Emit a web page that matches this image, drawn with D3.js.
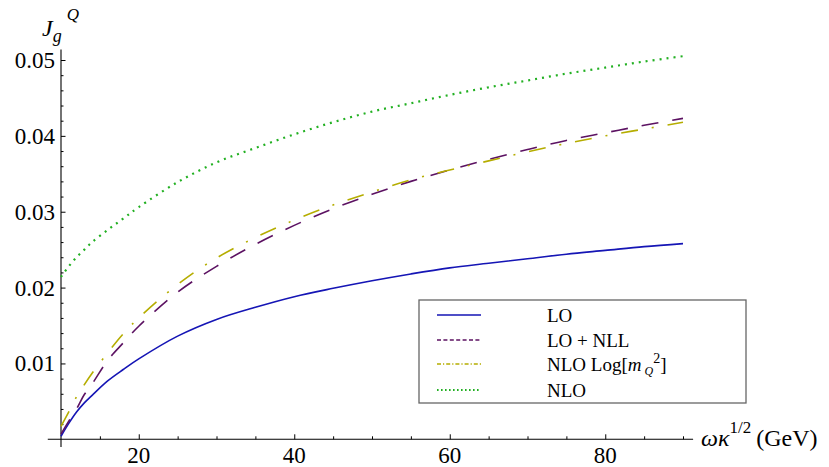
<!DOCTYPE html>
<html>
<head>
<meta charset="utf-8">
<script src="https://cdn.jsdelivr.net/npm/d3@7"></script>
<style>
  body { margin: 0; background: #fff; }
  svg, svg text { font-family: "Liberation Serif", "Times New Roman", serif; }
</style>
</head>
<body>
<div id="chart"></div>
<script>
// omega kappa^(1/2) values (GeV)
const xVals = [10, 11, 12, 13, 14, 16, 18, 20, 25, 30, 35, 40, 45, 50, 55, 60, 65, 70, 75, 80, 85, 90];

const lo     = [0.0004, 0.0021, 0.0036, 0.0048, 0.0058, 0.0077, 0.0092, 0.0106, 0.0136, 0.0158, 0.0174, 0.0188, 0.0199, 0.0209, 0.0218, 0.0226, 0.0232, 0.0238, 0.0244, 0.0249, 0.0254, 0.0258];
const loNll  = [0.0007, 0.0024, 0.0040, 0.0059, 0.0073, 0.0104, 0.0127, 0.0149, 0.0194, 0.0228, 0.0257, 0.0282, 0.0304, 0.0323, 0.0340, 0.0355, 0.0369, 0.0382, 0.0394, 0.0404, 0.0414, 0.0423];
const nloLog = [0.0017, 0.0036, 0.0056, 0.0072, 0.0087, 0.0114, 0.0139, 0.0160, 0.0204, 0.0239, 0.0266, 0.0289, 0.0309, 0.0326, 0.0342, 0.0355, 0.0367, 0.0379, 0.0390, 0.0400, 0.0409, 0.0418];
const nlo    = [0.0214, 0.0228, 0.0240, 0.0250, 0.0260, 0.0276, 0.0291, 0.0306, 0.0339, 0.0365, 0.0384, 0.0402, 0.0418, 0.0432, 0.0443, 0.0454, 0.0464, 0.0473, 0.0482, 0.0490, 0.0498, 0.0505];

const xMajor = [20, 40, 60, 80];
const xMinor = [15, 25, 30, 35, 45, 50, 55, 65, 70, 75, 85, 90];
const yMajor = [0.01, 0.02, 0.03, 0.04, 0.05];
const yMinor = [0.002, 0.004, 0.006, 0.008, 0.012, 0.014, 0.016, 0.018, 0.022, 0.024, 0.026, 0.028,
                0.032, 0.034, 0.036, 0.038, 0.042, 0.044, 0.046, 0.048];

const w = 829;
const h = 467;

const xScale = d3.scaleLinear().domain([10, 90]).range([61, 683]);
const yScale = d3.scaleLinear().domain([0, 0.05]).range([439.3, 60]);

const svg = d3.select("#chart")
              .append("svg")
              .attr("width", w)
              .attr("height", h);

// tick marks only from d3 axes (pointing into the plot), labels drawn below
function ticksOnly(g) {
  g.attr("font-family", null).attr("font-size", null);
  g.select(".domain").remove();
  g.selectAll("text").remove();
  g.selectAll("line").attr("stroke", "#000").attr("stroke-width", 1);
}

svg.append("g").attr("transform", "translate(" + xScale(10) + ",0)")
   .call(d3.axisLeft(yScale).tickValues(yMajor).tickSize(-4.5)).call(ticksOnly);
svg.append("g").attr("transform", "translate(" + xScale(10) + ",0)")
   .call(d3.axisLeft(yScale).tickValues(yMinor).tickSize(-2.5)).call(ticksOnly);
svg.append("g").attr("transform", "translate(0," + yScale(0) + ")")
   .call(d3.axisBottom(xScale).tickValues(xMajor).tickSize(-5)).call(ticksOnly);
svg.append("g").attr("transform", "translate(0," + yScale(0) + ")")
   .call(d3.axisBottom(xScale).tickValues(xMinor).tickSize(-3)).call(ticksOnly);

svg.selectAll("text.ylab")
   .data(yMajor)
   .enter()
   .append("text")
   .attr("class", "ylab")
   .attr("x", xScale(10) - 6)
   .attr("y", d => yScale(d) + 8)
   .attr("text-anchor", "end")
   .style("font-size", "23px")
   .text(d => d3.format(".2f")(d));

svg.selectAll("text.xlab")
   .data(xMajor)
   .enter()
   .append("text")
   .attr("class", "xlab")
   .attr("x", d => xScale(d))
   .attr("y", yScale(0) + 24)
   .attr("text-anchor", "middle")
   .style("font-size", "23px")
   .text(d => d);

// axis lines, extended a little past the origin
svg.append("line")
   .attr("x1", xScale(10)).attr("x2", xScale(10))
   .attr("y1", yScale(-0.001)).attr("y2", yScale(0.0514))
   .attr("stroke", "#000").attr("stroke-width", 1.1);
svg.append("line")
   .attr("x1", xScale(8.3)).attr("x2", xScale(91.3))
   .attr("y1", yScale(0)).attr("y2", yScale(0))
   .attr("stroke", "#000").attr("stroke-width", 1.1);

const series = [
  { name: "LO",       values: lo,     color: "#1515b5", dash: null,         legendDash: null,        width: 1.6 },
  { name: "LO + NLL", values: loNll,  color: "#5c1262", dash: "17,14",      legendDash: "4,2.4",     width: 1.6 },
  { name: "NLO Log",  values: nloLog, color: "#b5ad00", dash: "17,14,2,14", legendDash: "4,2,1.2,2", width: 1.6 },
  { name: "NLO",      values: nlo,    color: "#22b022", dash: "2,5",        legendDash: "1.6,2.4",   width: 2.2 }
];

const line = d3.line()
               .x(d => xScale(d[0]))
               .y(d => yScale(d[1]))
               .curve(d3.curveCatmullRom.alpha(0.5));

series.forEach(s => {
  svg.append("path")
     .datum(xVals.map((x, i) => [x, s.values[i]]))
     .attr("fill", "none")
     .attr("stroke", s.color)
     .attr("stroke-width", s.width)
     .attr("stroke-dasharray", s.dash)
     .attr("d", line);
});

// axis labels
const yLab = svg.append("text")
                .attr("x", 42)
                .attr("y", 36)
                .style("font-size", "24px")
                .style("font-style", "italic");
yLab.append("tspan").text("J");
yLab.append("tspan").attr("dy", 6).style("font-size", "18px").text("g");
yLab.append("tspan").attr("dx", 5).attr("dy", -22).style("font-size", "17px").text("Q");

const xLab = svg.append("text")
                .attr("x", 701)
                .attr("y", 446)
                .style("font-size", "24px");
xLab.append("tspan").style("font-style", "italic").text("ωκ");
xLab.append("tspan").attr("dy", -13).style("font-size", "17px").text("1/2");
xLab.append("tspan").attr("dy", 13).attr("dx", 5).text("(GeV)");

// legend
const legend = svg.append("g");
legend.append("rect")
      .attr("x", 419).attr("y", 300)
      .attr("width", 327).attr("height", 103)
      .attr("fill", "#fff")
      .attr("stroke", "#666")
      .attr("stroke-width", 1.3);

const rowY = [315, 340, 364, 390];
series.forEach((s, i) => {
  legend.append("line")
        .attr("x1", 437).attr("x2", 481)
        .attr("y1", rowY[i]).attr("y2", rowY[i])
        .attr("stroke", s.color)
        .attr("stroke-width", s.name === "NLO" ? 1.8 : 1.5)
        .attr("stroke-dasharray", s.legendDash);

  const t = legend.append("text")
                  .attr("x", 547)
                  .attr("y", rowY[i] + 7)
                  .style("font-size", "19px");
  if (s.name === "NLO Log") {
    t.append("tspan").text("NLO Log[");
    t.append("tspan").style("font-style", "italic").text("m");
    t.append("tspan").attr("dx", 3).attr("dy", 4).style("font-size", "12px").style("font-style", "italic").text("Q");
    t.append("tspan").attr("dy", -12).style("font-size", "14px").text("2");
    t.append("tspan").attr("dy", 8).text("]");
  } else {
    t.text(s.name);
  }
});
</script>
</body>
</html>
